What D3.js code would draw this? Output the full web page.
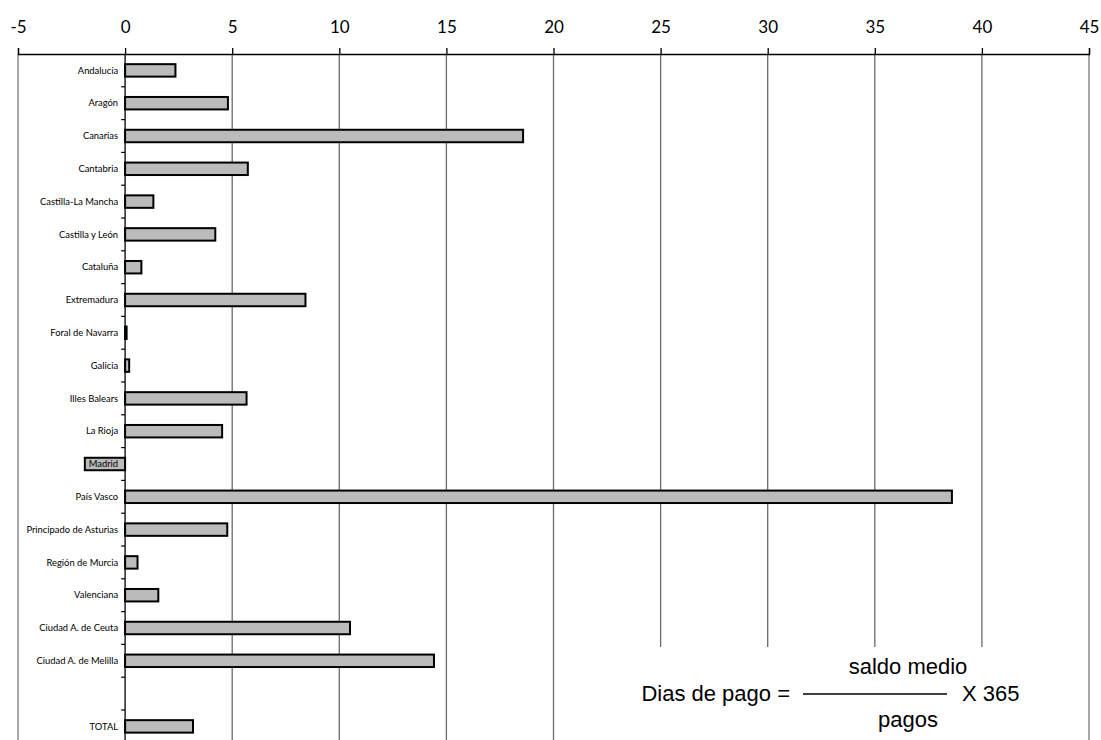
<!DOCTYPE html>
<html><head><meta charset="utf-8">
<script src="https://cdn.jsdelivr.net/npm/d3@7"></script>
<style>html,body{margin:0;padding:0;background:#fff;}svg{display:block;}</style>
</head><body>
<svg id="c" width="1101" height="740"></svg>
<script>
const categories = ["Andalucía","Aragón","Canarias","Cantabria","Castilla-La Mancha","Castilla y León","Cataluña","Extremadura","Foral de Navarra","Galicia","Illes Balears","La Rioja","Madrid","País Vasco","Principado de Asturias","Región de Murcia","Valenciana","Ciudad A. de Ceuta","Ciudad A. de Melilla","","TOTAL"];
const values = [2.35,4.8,18.58,5.73,1.32,4.21,0.76,8.42,0.07,0.19,5.67,4.53,-1.88,38.6,4.77,0.58,1.55,10.5,14.42,null,3.17];
const xTicks = [-5,0,5,10,15,20,25,30,35,40,45];
const formulaLeft = "Dias de pago =";
const formulaNum = "saldo medio";
const formulaDen = "pagos";
const formulaRight = "X 365";

const svg = d3.select("#c");
const x = d3.scaleLinear().domain([-5,45]).range([18,1089]);
const keys = categories.map((c,i)=>i);
const y = d3.scaleBand().domain(keys).range([54, 54+21*32.8]).paddingInner(0.62).paddingOuter(0.31);
const labelFont = "Lato, 'Open Sans', sans-serif";

// gridlines
svg.append("g").selectAll("line").data(xTicks.filter(t=>t>0 && t<45)).join("line")
  .attr("x1",d=>x(d)).attr("x2",d=>x(d)).attr("y1",54).attr("y2",740)
  .attr("stroke","#6a6a6a").attr("stroke-width",1.3);
// borders
svg.append("g").selectAll("line").data([-5,45]).join("line")
  .attr("x1",d=>x(d)).attr("x2",d=>x(d)).attr("y1",54).attr("y2",740)
  .attr("stroke","#a8a8a8").attr("stroke-width",2);

// top axis
const xAxis = d3.axisTop(x).tickValues(xTicks).tickSize(6).tickPadding(15).tickFormat(d=>String(d));
const gx = svg.append("g").attr("transform","translate(0,54)").call(xAxis);
gx.select(".domain").attr("stroke","#000").attr("stroke-width",1.3);
gx.selectAll(".tick line").attr("stroke","#000").attr("stroke-width",1.3);
gx.selectAll(".tick text").attr("font-family",labelFont).attr("font-size",17).attr("fill","#000");

// bars
svg.append("g").selectAll("rect").data(values.map((v,i)=>({v,i})).filter(d=>d.v!==null)).join("rect")
  .attr("x",d=>x(Math.min(0,d.v))).attr("width",d=>Math.abs(x(d.v)-x(0)))
  .attr("y",d=>y(d.i)).attr("height",y.bandwidth())
  .attr("fill","#bbbbbb").attr("stroke","#000").attr("stroke-width",2);

// y axis line at zero with ticks at band boundaries
svg.append("line").attr("x1",x(0)).attr("x2",x(0)).attr("y1",54).attr("y2",740).attr("stroke","#000").attr("stroke-width",1.3);
const step = y.step();
svg.append("g").selectAll("line").data(d3.range(1,categories.length)).join("line")
  .attr("x1",x(0)-4).attr("x2",x(0)).attr("y1",i=>54+i*step).attr("y2",i=>54+i*step)
  .attr("stroke","#000").attr("stroke-width",1.2);

// labels
svg.append("g").selectAll("text").data(categories.map((c,i)=>({c,i}))).join("text")
  .attr("x",x(0)-7).attr("y",d=>y(d.i)+y.bandwidth()/2).attr("dy","0.35em")
  .attr("text-anchor","end").attr("font-family",labelFont).attr("font-size",9.4).attr("fill","#000")
  .text(d=>d.c);

// formula box
const fx = 908;
svg.append("rect").attr("x",590).attr("y",647).attr("width",x(45)-1-590).attr("height",93).attr("fill","#fff");
const ff = "'Liberation Sans', Arial, sans-serif";
const fs = 22;
svg.append("text").attr("x",fx).attr("y",674).attr("text-anchor","middle").attr("font-family",ff).attr("font-size",fs).text(formulaNum);
svg.append("text").attr("x",790).attr("y",701).attr("text-anchor","end").attr("font-family",ff).attr("font-size",fs).text(formulaLeft);
svg.append("line").attr("x1",803).attr("x2",947).attr("y1",694).attr("y2",694).attr("stroke","#000").attr("stroke-width",1.3);
svg.append("text").attr("x",962).attr("y",701).attr("text-anchor","start").attr("font-family",ff).attr("font-size",fs).text(formulaRight);
svg.append("text").attr("x",fx).attr("y",727).attr("text-anchor","middle").attr("font-family",ff).attr("font-size",fs).text(formulaDen);
</script>
</body></html>
